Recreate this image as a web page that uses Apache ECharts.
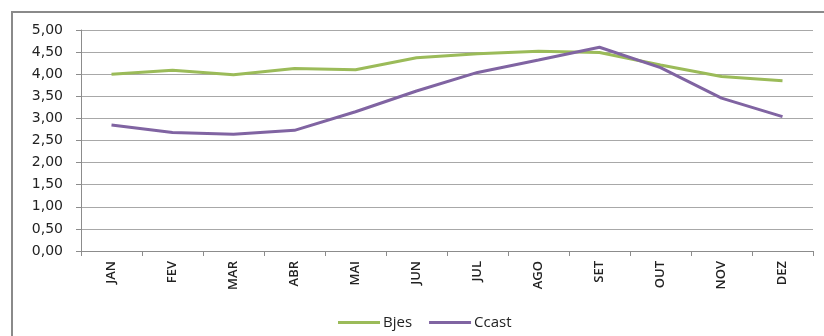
<!DOCTYPE html>
<html>
<head>
<meta charset="utf-8">
<script src="https://cdn.jsdelivr.net/npm/echarts@6/dist/echarts.min.js"></script>
<style>
  html, body { margin: 0; padding: 0; background: #fff; }
  #main { width: 824px; height: 336px; }
</style>
</head>
<body>
<div id="main"></div>
<script>
const months = ['JAN', 'FEV', 'MAR', 'ABR', 'MAI', 'JUN', 'JUL', 'AGO', 'SET', 'OUT', 'NOV', 'DEZ'];
const bjes = [4.00, 4.09, 3.99, 4.13, 4.10, 4.37, 4.46, 4.52, 4.49, 4.21, 3.95, 3.85];
const ccast = [2.85, 2.68, 2.64, 2.73, 3.15, 3.62, 4.04, 4.32, 4.61, 4.15, 3.46, 3.04];

const chart = echarts.init(document.getElementById('main'));

const option = {
  animation: false,
  graphic: [
    {
      // outer frame of the chart area (cropped on the right and bottom)
      type: 'rect',
      shape: { x: 12, y: 12, width: 900, height: 400 },
      style: { fill: 'none', stroke: '#8a8a8a', lineWidth: 2 },
      silent: true
    }
  ],
  legend: {
    left: 333,
    top: 310,
    icon: 'rect',
    itemWidth: 42,
    itemHeight: 3,
    itemGap: 17,
    textStyle: { fontFamily: 'Open Sans', fontSize: 15, color: '#222', padding: [0, 0, 0, -2] },
    data: ['Bjes', 'Ccast']
  },
  grid: { left: 81, top: 30, right: 11, bottom: 85 },
  xAxis: {
    type: 'category',
    data: months,
    boundaryGap: true,
    axisLine: { lineStyle: { color: '#8c8c8c', width: 1 } },
    axisTick: { show: true, length: 5, lineStyle: { color: '#8c8c8c' } },
    axisLabel: {
      rotate: 90,
      margin: 10,
      fontFamily: 'Open Sans',
      fontWeight: 600,
      fontSize: 13,
      color: '#222'
    }
  },
  yAxis: {
    type: 'value',
    min: 0,
    max: 5,
    interval: 0.5,
    axisLine: { show: true, lineStyle: { color: '#8c8c8c', width: 1 } },
    axisTick: { show: true, length: 5, lineStyle: { color: '#8c8c8c' } },
    splitLine: { lineStyle: { color: '#a8a8a8', width: 1 } },
    axisLabel: {
      margin: 18,
      fontFamily: 'DejaVu Sans',
      fontSize: 14,
      color: '#222',
      formatter: v => v.toFixed(2).replace('.', ',')
    }
  },
  series: [
    {
      name: 'Bjes',
      type: 'line',
      data: bjes,
      symbol: 'none',
      lineStyle: { color: '#9BBB59', width: 3 },
      itemStyle: { color: '#9BBB59' }
    },
    {
      name: 'Ccast',
      type: 'line',
      data: ccast,
      symbol: 'none',
      lineStyle: { color: '#8064A2', width: 3 },
      itemStyle: { color: '#8064A2' }
    }
  ]
};

chart.setOption(option);
</script>
</body>
</html>
